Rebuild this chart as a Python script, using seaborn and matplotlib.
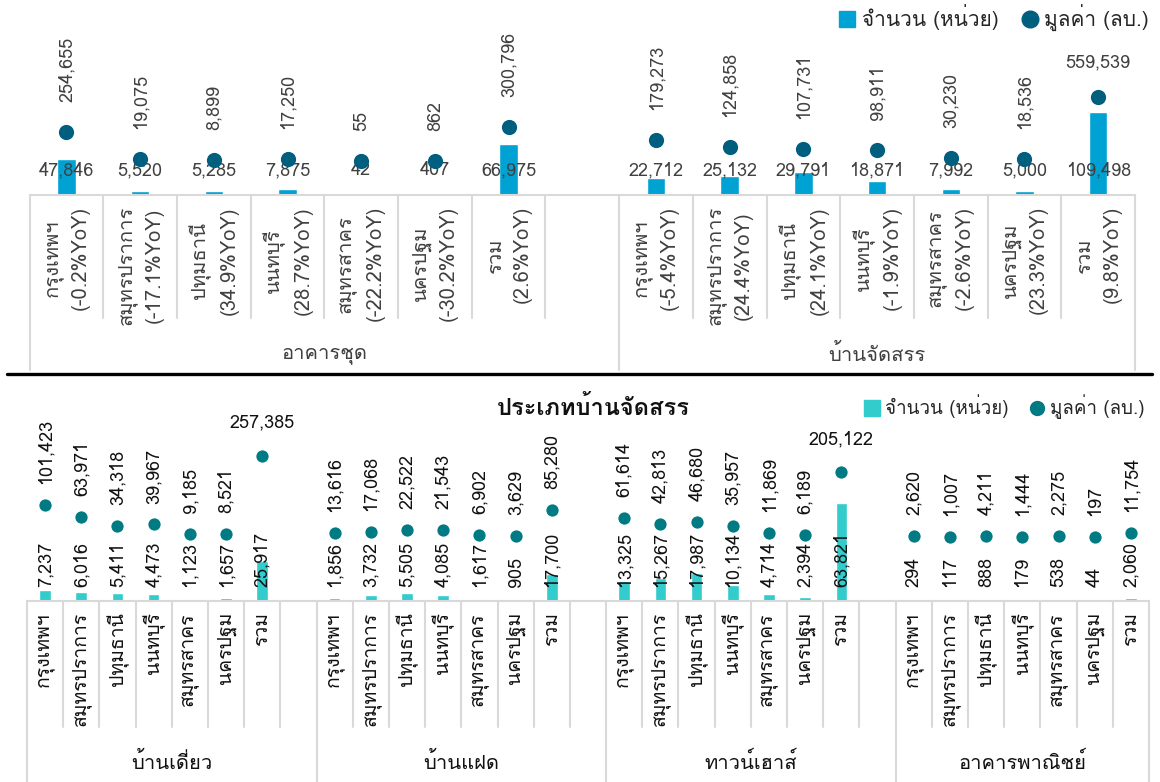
import matplotlib
matplotlib.use('Agg')
import matplotlib.pyplot as plt
from matplotlib import font_manager
from matplotlib.ft2font import FT2Font
from matplotlib.lines import Line2D
import seaborn as sns
import pandas as pd
import numpy as np

# ── Data ───────────────────────────────────────────────────────────────────────
provinces = ['กรุงเทพฯ', 'สมุทรปราการ', 'ปทุมธานี', 'นนทบุรี', 'สมุทรสาคร', 'นครปฐม', 'รวม']

top_groups = ['อาคารชุด', 'บ้านจัดสรร']
condo_units = [47846, 5520, 5285, 7875, 42, 407, 66975]
condo_value = [254655, 19075, 8899, 17250, 55, 862, 300796]
condo_yoy = ['-0.2', '-17.1', '34.9', '28.7', '-22.2', '-30.2', '2.6']
estate_units = [22712, 25132, 29791, 18871, 7992, 5000, 109498]
estate_value = [179273, 124858, 107731, 98911, 30230, 18536, 559539]
estate_yoy = ['-5.4', '24.4', '24.1', '-1.9', '-2.6', '23.3', '9.8']

bottom_title = 'ประเภทบ้านจัดสรร'
bottom_groups = ['บ้านเดี่ยว', 'บ้านแฝด', 'ทาวน์เฮาส์', 'อาคารพาณิชย์']
detached_units = [7237, 6016, 5411, 4473, 1123, 1657, 25917]
detached_value = [101423, 63971, 34318, 39967, 9185, 8521, 257385]
twin_units = [1856, 3732, 5505, 4085, 1617, 905, 17700]
twin_value = [13616, 17068, 22522, 21543, 6902, 3629, 85280]
town_units = [13325, 15267, 17987, 10134, 4714, 2394, 63821]
town_value = [61614, 42813, 46680, 35957, 11869, 6189, 205122]
shop_units = [294, 117, 888, 179, 538, 44, 2060]
shop_value = [2620, 1007, 4211, 1444, 2275, 197, 11754]

legend_units = 'จำนวน (หน่วย)'
legend_value = 'มูลค่า (ลบ.)'


# ── Font with Thai glyphs ──────────────────────────────────────────────────────
def thai_family():
    for f in font_manager.fontManager.ttflist:
        try:
            if 0x0E01 in FT2Font(f.fname).get_charmap():
                return f.name
        except Exception:
            pass
    return 'DejaVu Sans'


sns.set_style('white')
THAI = thai_family()
plt.rcParams['font.family'] = [THAI, 'Liberation Sans', 'DejaVu Sans']


def build(groups, units, values, labels, gap_after):
    rows, pos = [], 0
    for gi, g in enumerate(groups):
        for i in range(len(units[gi])):
            rows.append({'group': g, 'pos': pos, 'units': units[gi][i],
                         'value': values[gi][i], 'label': labels[gi][i]})
            pos += 1
        if gap_after[gi]:
            pos += 1
    return pd.DataFrame(rows), pos


def draw(ax, df, nslots, bar_color, dot_color, bar_w, dot_s, ylim1, ylim2,
         txt_color, tick_len, group_len, group_y, label_pad, label_size, flat_min,
         val_off, flat_off, count_rot, count_y):
    sns.barplot(data=df, x='pos', y='units', native_scale=True, width=bar_w,
                color=bar_color, saturation=1, ax=ax)
    ax.set_ylim(*ylim1)
    ax.set_xlim(-0.5, nslots - 0.5)
    ax2 = ax.twinx()
    sns.scatterplot(data=df, x='pos', y='value', color=dot_color, s=dot_s,
                    linewidth=0, ax=ax2, zorder=5)
    ax2.set_ylim(*ylim2)
    for a in (ax, ax2):
        a.set_yticks([])
        a.set_ylabel('')
        a.set_xlabel('')
        for s in ('top', 'left', 'right'):
            a.spines[s].set_visible(False)
    ax2.spines['bottom'].set_visible(False)
    ax.spines['bottom'].set_color('#D9D9D9')
    ax.spines['bottom'].set_linewidth(1.5)

    ax.set_xticks(df['pos'])
    ax.set_xticklabels(df['label'], rotation=90, fontsize=label_size, color=txt_color,
                       multialignment='center', linespacing=1.55)
    ax.tick_params(axis='x', length=0, pad=label_pad)

    # value labels
    for _, r in df.iterrows():
        if r['value'] >= flat_min:
            ax2.annotate(f"{r['value']:,}", (r['pos'], r['value']),
                         xytext=(0, flat_off), textcoords='offset points',
                         ha='center', va='center', fontsize=13, color=txt_color)
        else:
            ax2.annotate(f"{r['value']:,}", (r['pos'], r['value']),
                         xytext=(0, val_off), textcoords='offset points',
                         ha='center', va='bottom', rotation=90, fontsize=13,
                         color=txt_color)
        ax.text(r['pos'], count_y, f"{r['units']:,}", rotation=count_rot,
                transform=ax.get_xaxis_transform(), ha='center',
                va='center' if count_rot == 0 else 'bottom', fontsize=13,
                color=txt_color, zorder=6)

    # separators
    xt = ax.get_xaxis_transform()
    starts = df.groupby('group', sort=False)['pos'].min().tolist()
    bounds = [s - 0.5 for s in starts] + [nslots - 0.5]
    for p in np.arange(-0.5, nslots, 1.0):
        is_group = any(abs(p - b) < 1e-6 for b in bounds)
        ax.plot([p, p], [0, -(group_len if is_group else tick_len)], color='#D9D9D9',
                lw=1.5, transform=xt, clip_on=False)
    for gi, g in enumerate(df['group'].unique()):
        ax.text((bounds[gi] + bounds[gi + 1]) / 2, group_y, g, transform=xt,
                ha='center', va='center', fontsize=14.5, color=txt_color)
    return ax2


def legend(color_sq, color_dot, anchor, dot_size, size):
    fig.legend(handles=[Line2D([], [], marker='s', ls='', color=color_sq, markersize=12,
                               label=legend_units),
                        Line2D([], [], marker='o', ls='', color=color_dot,
                               markersize=dot_size, label=legend_value)],
               loc='center left', bbox_to_anchor=anchor, ncol=2, frameon=False,
               fontsize=size, handletextpad=0.2, columnspacing=1.0, handlelength=1.0)


fig = plt.figure(figsize=(11.6, 7.82), dpi=100)

# ── Top chart: condo vs housing estate ─────────────────────────────────────────
top_labels = [[f'{p}\n({y}%YoY)' for p, y in zip(provinces, condo_yoy)],
              [f'{p}\n({y}%YoY)' for p, y in zip(provinces, estate_yoy)]]
df_top, n_top = build(top_groups, [condo_units, estate_units],
                      [condo_value, estate_value], top_labels, [True, False])
ax_top = fig.add_axes([29.6 / 1160, 587 / 782, 1105.4 / 1160, 190 / 782])
draw(ax_top, df_top, n_top, '#00A2D4', '#005F7F', 0.25, 120,
     (0, 250600), (-297000, 1363000), '#404040',
     tick_len=123 / 190, group_len=175 / 190, group_y=-159 / 190, label_pad=8,
     label_size=14.5, flat_min=500000, val_off=21.6, flat_off=25, count_rot=0,
     count_y=25 / 190)
legend('#00A2D4', '#005F7F', (818 / 1160, 1 - 18 / 782), 12, 15)

fig.add_artist(Line2D([7 / 1160, 1152 / 1160], [1 - 374 / 782] * 2, color='black',
                      lw=2.4))

# ── Bottom chart: housing estate by type ───────────────────────────────────────
bot_labels = [provinces] * 4
df_bot, n_bot = build(bottom_groups,
                      [detached_units, twin_units, town_units, shop_units],
                      [detached_value, twin_value, town_value, shop_value],
                      bot_labels, [True, True, True, False])
ax_bot = fig.add_axes([27 / 1160, 181 / 782, 1122 / 1160, 171 / 782])
draw(ax_bot, df_bot, n_bot, '#33CCCC', '#007B83', 0.32, 78,
     (0, 111300), (-203400, 340000), '#111111',
     tick_len=126 / 171, group_len=181 / 171, group_y=-161 / 171, label_pad=8,
     label_size=14, flat_min=200000, val_off=15, flat_off=24, count_rot=90,
     count_y=14 / 171)
fig.text(593 / 1160, 1 - 408 / 782, bottom_title, ha='center', va='center',
         fontsize=17, fontweight='bold', color='#111111')
legend('#33CCCC', '#007B83', (846 / 1160, 1 - 407 / 782), 10, 13.5)

fig.savefig('out.png', dpi=100)
